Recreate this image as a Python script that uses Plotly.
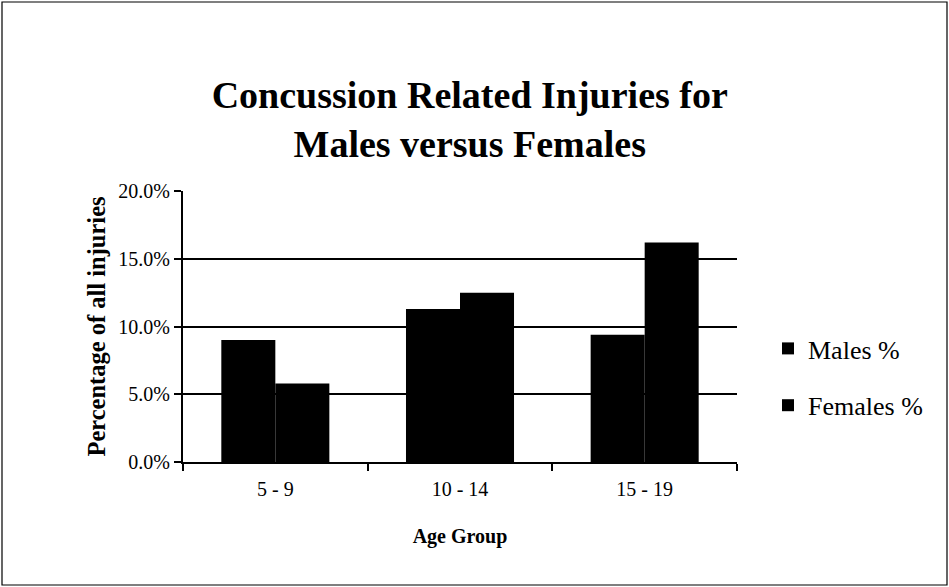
import plotly.graph_objects as go

# Age groups and share of all injuries that were concussion related (percent)
age_groups = ["5 - 9", "10 - 14", "15 - 19"]
males_pct = [9.0, 11.3, 9.4]
females_pct = [5.8, 12.5, 16.2]
y_ticks = [0, 5, 10, 15, 20]
y_tick_labels = ["0.0%", "5.0%", "10.0%", "15.0%", "20.0%"]

SERIF = "Liberation Serif"

fig = go.Figure()
fig.add_trace(go.Bar(
    x=age_groups, y=males_pct, name="Males %", legendgroup="m",
    marker=dict(color="black", line=dict(width=0)),
))
fig.add_trace(go.Bar(
    x=age_groups, y=females_pct, name="Females %", legendgroup="f",
    marker=dict(color="black", line=dict(width=0)),
))

fig.update_layout(
    width=949, height=587,
    margin=dict(l=183, r=212, t=191, b=125),
    paper_bgcolor="white", plot_bgcolor="white",
    barmode="group", bargap=0.415, bargroupgap=0,
    title=dict(
        text="<b>Concussion Related Injuries for<br>Males versus Females</b>",
        font=dict(family=SERIF, size=38, color="black"),
        x=0.495, xanchor="center", xref="container",
        y=1 - 108 / 587, yanchor="middle", yref="container",
    ),
    font=dict(family=SERIF, color="black"),
    legend=dict(
        x=(768 - 183) / 554, y=(462 - 377) / 271, xanchor="left", yanchor="middle",
        font=dict(family=SERIF, size=26, color="black"),
        traceorder="grouped", tracegroupgap=20,
        itemwidth=30, bgcolor="rgba(0,0,0,0)",
    ),
    xaxis=dict(
        type="category",
        showline=True, linecolor="black", linewidth=2,
        ticks="outside", tickson="boundaries", ticklen=7,
        tickcolor="black", tickwidth=1.5,
        ticklabelstandoff=8,
        tickfont=dict(family=SERIF, size=20, color="black"),
        title=dict(text="<b>Age Group</b>", font=dict(family=SERIF, size=20, color="black"),
                   standoff=30),
        showgrid=False,
    ),
    yaxis=dict(
        range=[0, 20], tickvals=y_ticks, ticktext=y_tick_labels,
        showline=True, linecolor="black", linewidth=2,
        ticks="outside", ticklen=7, tickcolor="black", tickwidth=1.5,
        tickfont=dict(family=SERIF, size=20, color="black"),
        showgrid=True, gridcolor="black", gridwidth=2,
        zeroline=False,
        title=dict(text="<b>Percentage of all injuries</b>",
                   font=dict(family=SERIF, size=24.5, color="black"), standoff=6),
    ),
)

# Outer frame around the whole chart
fig.add_shape(type="rect", xref="paper", yref="paper",
              x0=(2 - 183) / 554, x1=(947 - 183) / 554,
              y0=(462 - 585) / 271, y1=(462 - 2) / 271,
              line=dict(color="black", width=1.2), fillcolor="rgba(0,0,0,0)",
              layer="below")

fig.write_html("out.html")
